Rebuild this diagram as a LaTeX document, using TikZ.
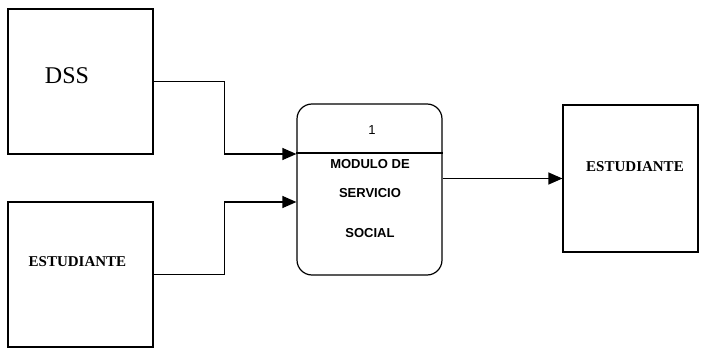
\documentclass[tikz,border=0pt]{standalone}
\usepackage{fontspec}
\setmainfont{Liberation Serif}
\newfontfamily\procfont{Liberation Sans}
\usetikzlibrary{arrows.meta}

\begin{document}
\begin{tikzpicture}[x=1pt, y=1pt, line width=1.2pt,
          entity/.style={rectangle, draw=black, minimum width=145pt, minimum height=145pt, inner sep=0pt},
          procbox/.style={rectangle, draw=black, rounded corners=15pt, minimum width=145pt, minimum height=171pt, inner sep=0pt},
          enttext/.style={font=\fontsize{15}{17}\selectfont\bfseries, inner sep=0pt},
          proctext/.style={font=\procfont\fontsize{13}{15}\selectfont\bfseries, align=center, inner sep=0pt},
          arrow/.style={-{Triangle[length=14pt, width=12pt]}, line width=1.2pt}]
        \useasboundingbox (0,0) rectangle (702,-348);
        \node [entity] (dss) at (80.5,-81.5) {};
        \node [entity] (est1) at (80.5,-274.5) {};
        \node [entity, minimum width=135pt, minimum height=147pt] (est2) at (630.5,-178.5) {};
        \node [procbox] (proc) at (369.5,-189.5) {};

        \node [font=\fontsize{24}{26}\selectfont, inner sep=0pt] (dsslabel) at (67,-76) {DSS};
        \node [enttext] (est1label) at (77.5,-262) {ESTUDIANTE};
        \node [enttext] (est2label) at (635,-167) {ESTUDIANTE};
        \node [font=\procfont\fontsize{13}{15}\selectfont, inner sep=0pt] (procnum) at (372,-130) {1};
        \node [proctext, anchor=north] (procname) at (370,-158.5) {MODULO DE\\[14pt]SERVICIO\\[25pt]SOCIAL};
        \draw ([yshift=-49.5pt]proc.north west) -- ([yshift=-49.5pt]proc.north east);

        \draw [arrow] (dss.east) -- ++(71,0) |- ([yshift=35.5pt]proc.west);
        \draw [arrow] (est1.east) -- ++(71,0) |- ([yshift=-12.5pt]proc.west);
        \draw [arrow] (proc.east |- est2.west) -- (est2.west);
      \end{tikzpicture}
\end{document}
